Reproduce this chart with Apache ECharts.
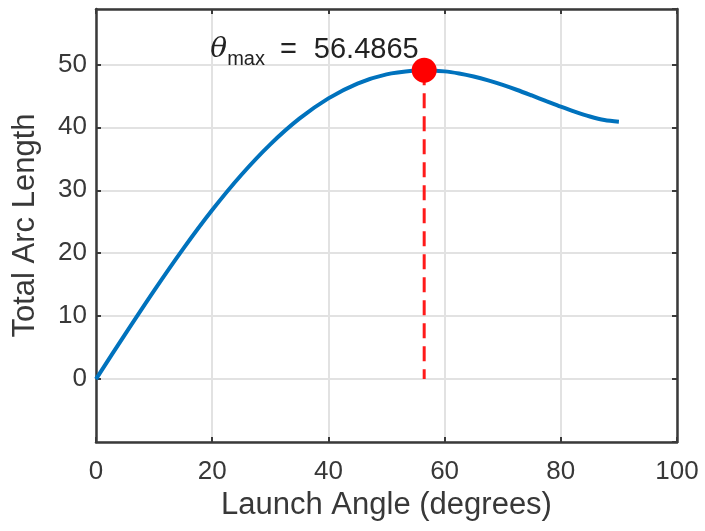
<!DOCTYPE html>
<html>
<head>
<meta charset="utf-8">
<script src="https://cdn.jsdelivr.net/npm/echarts@6/dist/echarts.min.js"></script>
<style>
  html, body { margin: 0; padding: 0; background: #fff; }
  #chart { width: 705px; height: 531px; }
</style>
</head>
<body>
<div id="chart"></div>
<script>
// launch angle (deg) and total arc length
var angles = [0, 5, 10, 15, 20, 25, 30, 35, 40, 45, 50, 55, 56.4865, 60, 62.5, 65, 67.5, 70, 72.5, 75, 77.5, 80, 82.5, 85, 87.5, 90];
var arcLength = [0, 7.11, 14.06, 20.69, 26.86, 32.43, 37.30, 41.38, 44.60, 46.95, 48.41, 49.03, 49.07, 48.89, 48.55, 48.07, 47.46, 46.74, 45.93, 45.06, 44.17, 43.28, 42.45, 41.72, 41.16, 40.90];

var thetaMax = 56.4865;
var arcMax = 49.07;

var xTicks = [0, 20, 40, 60, 80, 100];
var yTicks = [0, 10, 20, 30, 40, 50];

var fontFam = "'Liberation Sans', Arial, sans-serif";
var axisCol = '#3a3a3a';
var textCol = '#383838';

function pairs(xs, ys) {
    var out = [];
    for (var i = 0; i < xs.length; i++) {
        out.push([xs[i], ys[i]]);
    }
    return out;
}

var chart = echarts.init(document.getElementById('chart'), null, {renderer: 'canvas'});

// top / right edges of the box, ticks only
var boxAxis = {
    axisLine: {show: true, onZero: false, lineStyle: {color: axisCol, width: 2.5}},
    axisTick: {show: true, inside: true, length: 5, lineStyle: {color: axisCol, width: 2}},
    axisLabel: {show: false},
    splitLine: {show: false}
};

var option = {
    animation: false,
    backgroundColor: '#fff',
    textStyle: {fontFamily: fontFam},
    grid: {left: 96, top: 9, width: 581, height: 433},
    xAxis: [{
        type: 'value',
        min: 0,
        max: 100,
        interval: 20,
        position: 'bottom',
        name: 'Launch Angle (degrees)',
        nameLocation: 'middle',
        nameGap: 45,
        nameTextStyle: {fontSize: 31, color: textCol, fontFamily: fontFam},
        axisLine: {show: true, onZero: false, lineStyle: {color: axisCol, width: 2.5}},
        axisTick: {show: true, inside: true, length: 5, lineStyle: {color: axisCol, width: 2}},
        axisLabel: {
            fontSize: 26, color: textCol, margin: 17, fontFamily: fontFam,
            formatter: function (v) {
                return xTicks.indexOf(v) >= 0 ? String(v) : '';
            }
        },
        splitLine: {show: true, lineStyle: {color: '#e2e2e2', width: 2}}
    }, Object.assign({
        type: 'value', min: 0, max: 100, interval: 20, position: 'top'
    }, boxAxis)],
    yAxis: [{
        type: 'value',
        min: -10,
        max: 58.8,
        interval: 10,
        position: 'left',
        name: 'Total Arc Length',
        nameLocation: 'middle',
        nameGap: 55,
        nameTextStyle: {fontSize: 31, color: textCol, fontFamily: fontFam},
        axisLine: {show: true, onZero: false, lineStyle: {color: axisCol, width: 2.5}},
        axisTick: {show: true, inside: true, length: 5, lineStyle: {color: axisCol, width: 2}},
        axisLabel: {
            fontSize: 26, color: textCol, margin: 9, fontFamily: fontFam,
            showMinLabel: false, showMaxLabel: false,
            formatter: function (v) {
                return yTicks.indexOf(v) >= 0 ? String(v) : '';
            }
        },
        splitLine: {show: true, lineStyle: {color: '#e2e2e2', width: 2}}
    }, Object.assign({
        type: 'value', min: -10, max: 58.8, interval: 10, position: 'right'
    }, boxAxis)],
    series: [{
        name: 'arc',
        type: 'line',
        data: pairs(angles, arcLength),
        smooth: 0.3,
        showSymbol: false,
        lineStyle: {color: '#0072BD', width: 4},
        z: 2
    }, {
        name: 'drop',
        type: 'line',
        data: [[thetaMax, arcMax], [thetaMax, 0]],
        showSymbol: false,
        lineStyle: {color: '#FF1A1A', width: 3, type: [15, 8]},
        z: 3
    }, {
        name: 'max',
        type: 'scatter',
        data: [[thetaMax, arcMax]],
        symbolSize: 25,
        itemStyle: {color: '#FF0000', opacity: 1},
        z: 4,
        label: {
            show: true,
            position: [7, 8],
            align: 'right',
            verticalAlign: 'bottom',
            formatter: '{th|θ}{sub|max}{eq|=}{num|' + thetaMax.toFixed(4) + '}',
            rich: {
                th: {fontSize: 28, fontStyle: 'italic', fontFamily: "'DejaVu Serif', serif", color: '#222', lineHeight: 30, verticalAlign: 'top'},
                sub: {fontSize: 20, fontFamily: fontFam, color: '#222', lineHeight: 20, padding: [14, 0, 0, 0], verticalAlign: 'top'},
                eq: {fontSize: 29, fontFamily: fontFam, color: '#222', lineHeight: 30, padding: [0, 0, 0, 15], verticalAlign: 'top'},
                num: {fontSize: 29, fontFamily: fontFam, color: '#222', lineHeight: 30, padding: [0, 0, 0, 17], verticalAlign: 'top'}
            }
        }
    }]
};

chart.setOption(option);
</script>
</body>
</html>
